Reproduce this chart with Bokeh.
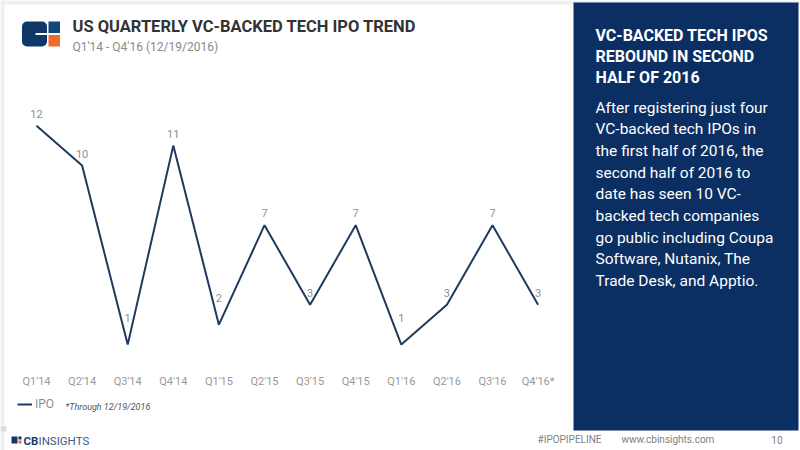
from bokeh.plotting import figure
from bokeh.models import ColumnDataSource, Range1d, Legend, LegendItem
from bokeh.core.properties import value
from bokeh.embed import file_html
from bokeh.resources import INLINE

# ---------------- data ----------------
quarters = ["Q1'14", "Q2'14", "Q3'14", "Q4'14", "Q1'15", "Q2'15",
            "Q3'15", "Q4'15", "Q1'16", "Q2'16", "Q3'16", "Q4'16*"]
ipos = [12, 10, 1, 11, 2, 7, 3, 7, 1, 3, 7, 3]
series_name = "IPO"
title_text = "US QUARTERLY VC-BACKED TECH IPO TREND"
subtitle_text = "Q1'14 - Q4'16 (12/19/2016)"
footnote_text = "*Through 12/19/2016"
panel_heading = ["VC-BACKED TECH IPOS", "REBOUND IN SECOND", "HALF OF 2016"]
panel_body = ["After registering just four", "VC-backed tech IPOs in",
              "the first half of 2016, the", "second half of 2016 to",
              "date has seen 10 VC-", "backed tech companies",
              "go public including Coupa", "Software, Nutanix, The",
              "Trade Desk, and Apptio."]
footer_items = ["#IPOPIPELINE", "www.cbinsights.com", "10"]

# ---------------- layout constants ----------------
W, H = 800, 450
M = 0                      # offset of canvas in picture
X0, DX = 36.0, 45.6        # picture x of first quarter, px per quarter
Y0, DY = 364.0, 19.9       # picture y of zero, px per IPO

NAVY = "#0b2f62"
LOGO = "#0f3869"
LINE = "#1f3a5c"
GRAY = "#8f8f8f"
ORANGE = "#f26a2e"
FONT = "Roboto"

p = figure(width=W, height=H, output_backend="svg", toolbar_location=None,
           x_range=Range1d((M - X0) / DX, (M + W - X0) / DX),
           y_range=Range1d((Y0 - (M + H)) / DY, (Y0 - M) / DY),
           x_axis_location=None, y_axis_location=None, min_border=0)
p.extra_x_ranges = {"px": Range1d(M, M + W)}
p.extra_y_ranges = {"px": Range1d(M + H, M)}
p.grid.visible = False
p.outline_line_color = None
p.background_fill_color = "white"
p.border_fill_color = "white"

# ---------------- chart ----------------
n = len(ipos)
idx = list(range(n))
offs = [-27 if v <= 2 else -12 for v in ipos]
src = ColumnDataSource(dict(x=idx, y=ipos, q=quarters,
                            lab=[str(v) for v in ipos], off=offs,
                            zero=[0] * n))

line_r = p.line("x", "y", source=src, line_color=LINE, line_width=2)
p.text("x", "y", text="lab", source=src, y_offset="off",
       text_align="center", text_baseline="middle",
       text_font=value(FONT), text_font_size="11px", text_color=GRAY)
p.text("x", "zero", text="q", source=src, y_offset=17,
       text_align="center", text_baseline="middle",
       text_font=value(FONT), text_font_size="11px", text_color="#999999")

legend = Legend(items=[LegendItem(label=series_name, renderers=[line_r])],
                location=(17, 39), orientation="horizontal",
                glyph_width=15, glyph_height=12, label_height=12,
                label_standoff=3, padding=0, margin=0, spacing=0,
                border_line_color=None, background_fill_alpha=0,
                label_text_font=FONT, label_text_font_size="12px",
                label_text_color=GRAY)
p.add_layout(legend)


def ptext(x, y, s, size, color, style="normal", font=FONT, align="left"):
    p.text(x=[x], y=[y], text=[s], x_range_name="px", y_range_name="px",
           text_align=align, text_baseline="middle",
           text_font=value(font), text_font_size=size,
           text_font_style=style, text_color=color)


def box(l, r, t, b, color, radius=0):
    p.quad(left=[l], right=[r], top=[t], bottom=[b], x_range_name="px",
           y_range_name="px", fill_color=color, line_color=None,
           border_radius=radius)


ptext(65, 406, footnote_text, "9px", "#555555", style="italic")

# ---------------- frame strips ----------------
box(0, 800, 0, 4, "#f0f0f0")
box(0, 4, 0, 450, "#f0f0f0")

# ---------------- header ----------------
box(21.5, 46.5, 21, 46, LOGO, radius=5)
box(35, 47, 32.5, 34.5, "white")
box(48, 59.5, 21, 32.5, "#14457d")
box(48, 59.5, 34.5, 46, ORANGE)

ptext(72, 26, title_text, "16.5px", "#333333", style="bold")
ptext(72, 46, subtitle_text, "12px", "#8a8a8a")

# ---------------- right panel ----------------
box(573, 798, 2, 430, NAVY)
for i, s in enumerate(panel_heading):
    ptext(595, 35 + 21 * i, s, "16px", "white", style="bold")
for i, s in enumerate(panel_body):
    ptext(595, 107 + 21.7 * i, s, "15.5px", "white")

# ---------------- footer ----------------
box(0, 6, 426, 431, "#d8dde4")
box(11, 17, 436, 443, LOGO)
box(18, 21, 436, 439, LOGO)
box(18, 21, 440, 443, ORANGE)
ptext(23, 440, "CB", "11.5px", "#1d3c6a", style="bold")
ptext(38, 440, "INSIGHTS", "11.5px", "#3a5a85")
ptext(537, 439, footer_items[0], "10px", "#7f7f7f")
ptext(621, 439, footer_items[1], "10px", "#7f7f7f")
ptext(782, 439, footer_items[2], "10px", "#7f7f7f", align="right")

open("out.html", "w").write(file_html(p, INLINE))
